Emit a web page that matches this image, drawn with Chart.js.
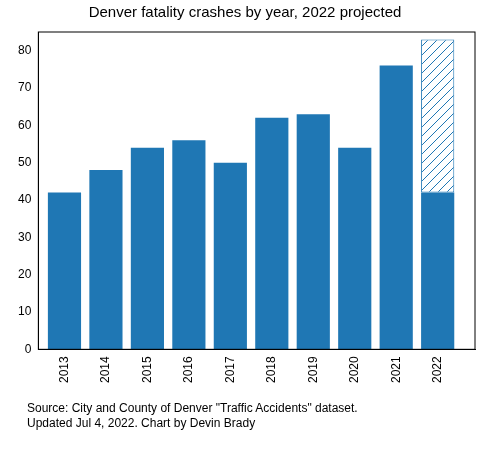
<!DOCTYPE html>
<html>
<head>
<script src="https://cdn.jsdelivr.net/npm/chart.js@4"></script>
<style>
body { margin: 0; background: #fff; font-family: "Liberation Sans", Arial, sans-serif; }
#wrap { position: relative; width: 481px; height: 450px; }
#note { position: absolute; left: 27px; top: 401px; font-size: 12px; line-height: 15px; color: #000; }
</style>
</head>
<body>
<div id="wrap">
<canvas id="myChart" width="481" height="450"></canvas>
<div id="note">Source: City and County of Denver "Traffic Accidents" dataset.<br>Updated Jul 4, 2022. Chart by Devin Brady</div>
</div>
<script>
var years = [2013, 2014, 2015, 2016, 2017, 2018, 2019, 2020, 2021, 2022];
var crashes = [42, 48, 54, 56, 50, 62, 63, 54, 76, 42];
var projectedExtra = [0, 0, 0, 0, 0, 0, 0, 0, 0, 41];
var yTicks = [0, 10, 20, 30, 40, 50, 60, 70, 80];

var blue = "#1f77b4";

function hatch() {
  var c = document.createElement("canvas");
  c.width = 9; c.height = 9;
  var g = c.getContext("2d");
  g.fillStyle = "#fff";
  g.fillRect(0, 0, 9, 9);
  g.strokeStyle = blue;
  g.lineWidth = 1;
  g.beginPath();
  g.moveTo(0, 9); g.lineTo(9, 0);
  g.moveTo(-1, 1); g.lineTo(1, -1);
  g.moveTo(8, 10); g.lineTo(10, 8);
  g.stroke();
  return g.createPattern(c, "repeat");
}

function pts(vals) {
  return years.map(function (y, i) { return { x: y, y: vals[i] }; });
}

var ctx = document.getElementById("myChart").getContext("2d");
var myChart = new Chart(ctx, {
  type: "bar",
  data: {
    datasets: [
      { label: "Crashes", data: pts(crashes), backgroundColor: blue, borderWidth: 0,
        barPercentage: 0.8, categoryPercentage: 1 },
      { label: "Projected", data: pts(projectedExtra), backgroundColor: hatch(), borderColor: blue,
        borderWidth: 1, borderSkipped: false, barPercentage: 0.8, categoryPercentage: 1 }
    ]
  },
  options: {
    responsive: false,
    animation: false,
    layout: { padding: { left: 15, right: 6, top: 0, bottom: 64 } },
    plugins: {
      legend: { display: false },
      tooltip: { enabled: false },
      title: { display: true, text: "Denver fatality crashes by year, 2022 projected",
        color: "#000", font: { family: "Liberation Sans", size: 15, weight: "normal" },
        padding: { top: 4, bottom: 10 } }
    },
    scales: {
      x: {
        type: "linear",
        stacked: true,
        offset: false,
        min: 2012.37, max: 2022.9,
        afterBuildTicks: function (s) { s.ticks = years.map(function (v) { return { value: v }; }); },
        grid: { display: false, drawTicks: true, tickLength: 4, color: "#000" },
        border: { color: "#000" },
        ticks: { color: "#000", maxRotation: 90, minRotation: 90,
          callback: function (v) { return String(v); },
          font: { family: "Liberation Sans", size: 12 } }
      },
      y: {
        stacked: true,
        min: 0, max: 85,
        afterBuildTicks: function (s) { s.ticks = yTicks.map(function (v) { return { value: v }; }); },
        grid: { display: false, drawTicks: true, tickLength: 4 },
        border: { color: "#000" },
        ticks: { color: "#000", font: { family: "Liberation Sans", size: 12 } }
      }
    }
  },
  plugins: [{
    id: "frame",
    afterDraw: function (chart) {
      var a = chart.chartArea, g = chart.ctx;
      g.save();
      g.strokeStyle = "#000";
      g.lineWidth = 1;
      g.strokeRect(a.left, a.top, a.right - a.left, a.bottom - a.top);
      g.restore();
    }
  }]
});
</script>
</body>
</html>
